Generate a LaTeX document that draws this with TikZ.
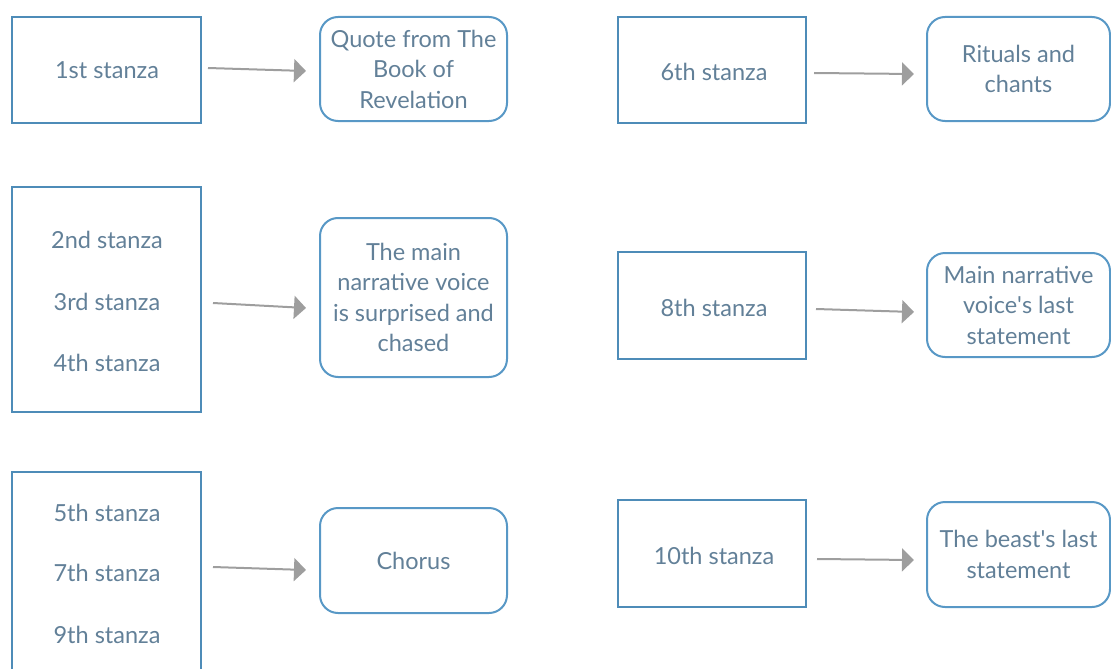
\documentclass[tikz,border=0pt]{standalone}
\usepackage{fontspec}
\setmainfont{Lato}
\usetikzlibrary{arrows.meta}

% straight apostrophe, set as a glyph so the TeX quote mapping leaves it alone
\newcommand{\sq}{{\XeTeXglyph\XeTeXcharglyph"27\relax}}

\definecolor{rectblue}{RGB}{78,140,184}
\definecolor{roundblue}{RGB}{88,152,198}
\definecolor{labeltext}{RGB}{98,128,152}
\definecolor{arrowgray}{RGB}{158,158,158}

\tikzset{
  stanzabox/.style={draw=rectblue, line width=2pt, minimum width=189pt, inner sep=0pt},
  themebox/.style={draw=roundblue, line width=2pt, rounded corners=18pt, minimum width=187pt,
                   inner sep=0pt, align=center, text=labeltext,
                   font=\fontsize{23.5}{30.5}\selectfont},
  lbl/.style={text=labeltext, font=\fontsize{23.5}{28}\selectfont, inner sep=0pt},
  flow/.style={draw=arrowgray, line width=2pt, -{Triangle[length=12pt,width=23pt]}},
}

\begin{document}
\begin{tikzpicture}[x=1pt, y=-1pt]
  \useasboundingbox (0,0) rectangle (1111,669);
  \clip (0,0) rectangle (1111,669);

  % left column: stanza groups
  \node[stanzabox, minimum height=106pt] (s1)  at (106.5,70) {};
  \node[stanzabox, minimum height=225pt] (s2)  at (106.5,299.5) {};
  \node[stanzabox, minimum height=270pt] (s5)  at (106.5,607) {};

  \node[lbl] (t1) at (107,70)  {1st stanza};
  \node[lbl] (t2) at (107,240) {2nd stanza};
  \node[lbl] (t3) at (107,302) {3rd stanza};
  \node[lbl] (t4) at (107,363) {4th stanza};
  \node[lbl] (t5) at (107,513) {5th stanza};
  \node[lbl] (t7) at (107,573) {7th stanza};
  \node[lbl] (t9) at (107,635) {9th stanza};

  % left column: themes
  \node[themebox, minimum height=104pt] (q1) at (413.5,69)
    {Quote from The\\Book of\\Revelation};
  \node[themebox, minimum height=159pt] (q2) at (413.5,297.5)
    {The main\\narrative voice\\is surprised and\\chased};
  \node[themebox, minimum height=105pt] (q5) at (413.5,560.5) {Chorus};

  % right column: stanzas
  \node[stanzabox, minimum width=188pt, minimum height=106pt] (s6)  at (712,70)    {};
  \node[stanzabox, minimum width=188pt, minimum height=107pt] (s8)  at (712,305.5) {};
  \node[stanzabox, minimum width=188pt, minimum height=107pt] (s10) at (712,553.5) {};

  \node[lbl] (t6)  at (714,72)  {6th stanza};
  \node[lbl] (t8)  at (714,308) {8th stanza};
  \node[lbl] (t10) at (714,556) {10th stanza};

  % right column: themes
  \node[themebox, minimum width=183pt, minimum height=104pt] (q6) at (1018.5,69)
    {Rituals and\\chants};
  \node[themebox, minimum width=183pt, minimum height=104pt] (q8) at (1018.5,305)
    {Main narrative\\voice\sq s last\\statement};
  \node[themebox, minimum width=183pt, minimum height=105pt] (q10) at (1018.5,554.5)
    {The beast\sq s last\\statement};

  % connectors
  \draw[flow] ([xshift=6pt,yshift=2pt]s1.east)      -- ([xshift=-13pt,yshift=-2pt]q1.west);
  \draw[flow] ([xshift=11pt,yshift=-3.5pt]s2.east)  -- ([xshift=-13pt,yshift=-10.5pt]q2.west);
  \draw[flow] ([xshift=11pt,yshift=40pt]s5.east)    -- ([xshift=-13pt,yshift=-9.5pt]q5.west);
  \draw[flow] ([xshift=7pt,yshift=-3pt]s6.east)     -- ([xshift=-12pt,yshift=-5pt]q6.west);
  \draw[flow] ([xshift=9pt,yshift=-3.5pt]s8.east)   -- ([xshift=-12pt,yshift=-7pt]q8.west);
  \draw[flow] ([xshift=10pt,yshift=-5.5pt]s10.east) -- ([xshift=-12pt,yshift=-5.5pt]q10.west);
\end{tikzpicture}
\end{document}
